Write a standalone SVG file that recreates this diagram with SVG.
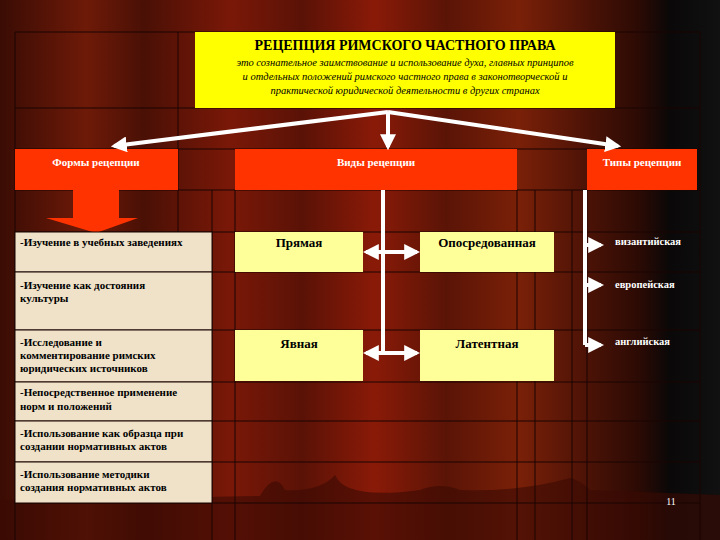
<svg xmlns="http://www.w3.org/2000/svg" width="720" height="540" viewBox="0 0 720 540">
<defs>
<linearGradient id="bg" x1="0" y1="0" x2="1" y2="0">
<stop offset="0" stop-color="#3a0c04"/><stop offset="0.12" stop-color="#6e1a08"/><stop offset="0.2" stop-color="#4a1005"/>
<stop offset="0.32" stop-color="#7a1808"/><stop offset="0.42" stop-color="#5a1206"/><stop offset="0.52" stop-color="#8a1a08"/>
<stop offset="0.62" stop-color="#5a1406"/><stop offset="0.72" stop-color="#7a2008"/><stop offset="0.82" stop-color="#4a1206"/>
<stop offset="0.89" stop-color="#2a0a04"/><stop offset="0.93" stop-color="#0a0808"/><stop offset="1" stop-color="#111"/>
</linearGradient>
<marker id="ah" viewBox="0 0 10 10" refX="8" refY="5" markerWidth="4" markerHeight="4" orient="auto-start-reverse"><path d="M0,0 L10,5 L0,10 z" fill="#fff"/></marker>
<style>
.g{stroke:#1a0502;stroke-width:1;fill:none}
.beige{fill:#efe2c8;stroke:#1a0502}
.yel{fill:#ffff99}
.red{fill:#ff3300}
.t{font-family:"Liberation Serif",serif;font-weight:bold}
.w{fill:#fff}
.c{stroke:#fff;stroke-width:4;fill:none}
</style>
</defs>
<rect width="720" height="540" fill="url(#bg)"/>
<path d="M0,500 L150,498 L260,496 Q275,470 285,490 Q320,492 335,475 Q345,500 420,490 Q440,482 460,490 Q520,492 570,478 Q580,480 590,490 L720,495 L720,540 L0,540 z" fill="#3a0a04" opacity="0.6"/>
<g class="g">
<path d="M15,32 H700 M15,108 H700 M15,149 H700 M15,190 H700 M15,232 H700 M15,272 H700 M15,330 H700 M15,382 H700 M15,421 H700 M15,462 H700 M15,503 H700"/>
<path d="M15,32 V540 M178,32 V232 M212,190 V540 M235,190 V540 M517,190 V540 M535,190 V540 M572,190 V540 M587,190 V540 M700,32 V540"/>
</g>
<g id="title">
<rect x="195" y="32" width="420" height="76" fill="#ffff00"/>
<text class="t" x="405" y="50" font-size="14" text-anchor="middle">РЕЦЕПЦИЯ РИМСКОГО ЧАСТНОГО ПРАВА</text>
<text x="405" y="66" font-size="10.5" font-style="italic" font-family="Liberation Serif,serif" text-anchor="middle">это сознательное заимствование и использование духа, главных принципов</text>
<text x="405" y="80" font-size="10.5" font-style="italic" font-family="Liberation Serif,serif" text-anchor="middle">и отдельных положений римского частного права в законотворческой и</text>
<text x="405" y="94" font-size="10.5" font-style="italic" font-family="Liberation Serif,serif" text-anchor="middle">практической юридической деятельности в других странах</text>
</g>
<g id="formy"><rect class="red" x="15" y="149" width="163" height="41"/><text class="t w" x="96" y="166" font-size="11" text-anchor="middle">Формы рецепции</text></g>
<g id="vidy"><rect class="red" x="235" y="149" width="282" height="41"/><text class="t w" x="376" y="166" font-size="11" text-anchor="middle">Виды рецепции</text></g>
<g id="tipy"><rect class="red" x="587" y="149" width="110" height="41"/><text class="t w" x="642" y="166" font-size="11" text-anchor="middle">Типы рецепции</text></g>
<g id="bigarrow"><path d="M73,190 H119 V218 H138 L96,233 L46,218 H73 z" fill="#ff3300"/></g>
<g id="forms" class="t" font-size="11">
<rect class="beige" x="15" y="232" width="197" height="40"/><text x="20" y="246">-Изучение в учебных заведениях</text>
<rect class="beige" x="15" y="272" width="197" height="58"/><text x="20" y="289">-Изучение как достояния</text><text x="20" y="302">культуры</text>
<rect class="beige" x="15" y="330" width="197" height="52"/><text x="20" y="346">-Исследование и</text><text x="20" y="359">комментирование римских</text><text x="20" y="372">юридических источников</text>
<rect class="beige" x="15" y="382" width="197" height="39"/><text x="20" y="396">-Непосредственное применение</text><text x="20" y="410">норм и положений</text>
<rect class="beige" x="15" y="421" width="197" height="41"/><text x="20" y="437">-Использование как образца при</text><text x="20" y="450">создании нормативных актов</text>
<rect class="beige" x="15" y="462" width="197" height="41"/><text x="20" y="478">-Использование методики</text><text x="20" y="491">создания нормативных актов</text>
</g>
<g id="pryamaya"><rect class="yel" x="235" y="232" width="128" height="40"/><text class="t" x="299" y="247" font-size="13" text-anchor="middle" font-weight="normal">Прямая</text></g>
<g id="oposr"><rect class="yel" x="420" y="232" width="134" height="40"/><text class="t" x="487" y="247" font-size="13" text-anchor="middle" font-weight="normal">Опосредованная</text></g>
<g id="yavnaya"><rect class="yel" x="235" y="330" width="128" height="51"/><text class="t" x="299" y="348" font-size="13" text-anchor="middle" font-weight="normal">Явная</text></g>
<g id="latent"><rect class="yel" x="420" y="330" width="134" height="51"/><text class="t" x="487" y="348" font-size="13" text-anchor="middle" font-weight="normal">Латентная</text></g>
<g id="types" class="t w" font-size="10.5">
<text x="615" y="245">византийская</text><text x="615" y="288">европейская</text><text x="615" y="345">английская</text>
</g>
<g id="connectors">
<path class="c" d="M388,112 L114,146" marker-end="url(#ah)"/>
<path class="c" d="M388,112 L388,147" marker-end="url(#ah)"/>
<path class="c" d="M388,112 L618,146" marker-end="url(#ah)"/>
<path class="c" d="M383,190 V353"/>
<path class="c" d="M366,252 H417" marker-start="url(#ah)" marker-end="url(#ah)"/>
<path class="c" d="M366,353 H417" marker-start="url(#ah)" marker-end="url(#ah)"/>
<path class="c" d="M585,190 V345"/>
<path class="c" d="M585,245 H601" marker-end="url(#ah)"/>
<path class="c" d="M585,285 H601" marker-end="url(#ah)"/>
<path class="c" d="M585,345 H601" marker-end="url(#ah)"/>
</g>
<text x="671" y="505" font-family="Liberation Serif,serif" font-size="10" fill="#fff" text-anchor="middle">11</text>
</svg>
